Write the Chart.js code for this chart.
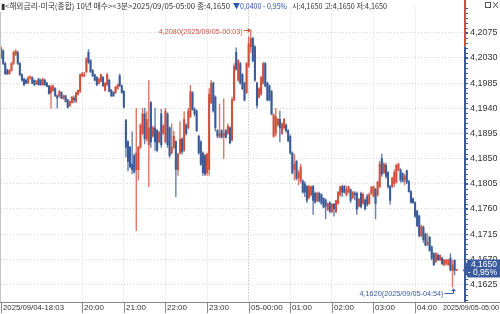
<!DOCTYPE html>
<html><head><meta charset="utf-8">
<script src="https://cdn.jsdelivr.net/npm/chart.js@4.4.1/dist/chart.umd.min.js"></script>
<style>html,body{margin:0;padding:0;background:#fff;overflow:hidden}canvas{display:block}</style>
</head><body>
<canvas id="c" width="500" height="314"></canvas>
<script>
// ---- data (3-minute bars, 2025/09/04-18:03 .. 2025/09/05-05:00) ----
const opens = [
4.2030,4.2042,4.2020,4.2008,4.2002,4.2008,4.2020,4.2036,4.2040,4.2020,
4.2000,4.1992,4.1990,4.1985,4.1994,4.1995,4.1990,4.1984,4.1992,4.1990,
4.1982,4.1990,4.1985,4.1980,4.1968,4.1972,4.1975,4.1962,4.1962,4.1968,
4.1958,4.1962,4.1955,4.1945,4.1950,4.1958,4.1952,4.1965,4.1970,4.1998,
4.1998,4.2005,4.2040,4.2025,4.2008,4.2000,4.1995,4.1985,4.1988,4.1995,
4.1972,4.1982,4.1990,4.1972,4.1968,4.1968,4.1975,4.1998,4.1980,4.1970,
4.1918,4.1880,4.1870,4.1840,4.1855,4.1830,4.1830,4.1870,4.1895,4.1930,
4.1885,4.1875,4.1950,4.1890,4.1905,4.1900,4.1880,4.1930,4.1895,4.1880,
4.1930,4.1905,4.1860,4.1870,4.1880,4.1830,4.1860,4.1885,4.1865,4.1910,
4.1905,4.1925,4.1968,4.1938,4.1935,4.1890,4.1880,4.1860,4.1855,4.1825,
4.1830,4.1950,4.1985,4.1960,4.1900,4.1890,4.1900,4.1890,4.1900,4.1895,
4.1905,4.1883,4.1955,4.2040,4.1990,4.2020,4.2000,4.1985,4.1968,4.2015,
4.2050,4.2065,4.2050,4.1985,4.1960,4.1965,4.1985,4.2020,4.1985,4.1980,
4.1970,4.1890,4.1895,4.1910,4.1920,4.1895,4.1905,4.1910,4.1900,4.1890,
4.1860,4.1830,4.1845,4.1815,4.1810,4.1810,4.1805,4.1800,4.1780,4.1785,
4.1800,4.1788,4.1775,4.1788,4.1785,4.1779,4.1776,4.1759,4.1771,4.1755,
4.1768,4.1755,4.1770,4.1785,4.1800,4.1800,4.1785,4.1790,4.1794,4.1780,
4.1788,4.1788,4.1765,4.1788,4.1770,4.1776,4.1782,4.1770,4.1788,4.1783,
4.1795,4.1785,4.1800,4.1850,4.1825,4.1838,4.1825,4.1800,4.1800,4.1805,
4.1808,4.1830,4.1830,4.1823,4.1812,4.1828,4.1809,4.1791,4.1778,4.1771,
4.1756,4.1747,4.1712,4.1727,4.1715,4.1697,4.1709,4.1692,4.1680,4.1666,
4.1677,4.1669,4.1672,4.1660,4.1663,4.1660,4.1672,4.1650,4.1668,4.1650];
const highs = [
4.2050,4.2045,4.2022,4.2010,4.2009,4.2022,4.2042,4.2045,4.2042,4.2022,
4.2002,4.1994,4.1992,4.1997,4.1998,4.1996,4.1991,4.1990,4.1994,4.1992,
4.1994,4.1992,4.1987,4.1981,4.1982,4.1982,4.1977,4.1964,4.1972,4.1970,
4.1964,4.1963,4.1956,4.1953,4.1961,4.1962,4.1969,4.1973,4.2001,4.2004,
4.2004,4.2031,4.2045,4.2027,4.2009,4.2001,4.1997,4.1994,4.2001,4.1997,
4.1986,4.2003,4.1992,4.1974,4.1970,4.1979,4.1983,4.2001,4.1982,4.1972,
4.1920,4.1882,4.1872,4.1898,4.1858,4.1940,4.1872,4.1912,4.1940,4.1940,
4.1934,4.1990,4.1952,4.1908,4.1940,4.1902,4.1899,4.1938,4.1911,4.1940,
4.1932,4.1907,4.1912,4.1899,4.1882,4.1860,4.1916,4.1887,4.1934,4.1912,
4.1940,4.1981,4.1970,4.1941,4.1937,4.1892,4.1882,4.1862,4.1858,4.1860,
4.1975,4.1990,4.1987,4.1962,4.1902,4.1948,4.1902,4.1957,4.1902,4.1912,
4.1907,4.1960,4.2020,4.2048,4.2027,4.2022,4.2002,4.1987,4.2022,4.2068,
4.2080,4.2067,4.2052,4.1987,4.1977,4.1997,4.2022,4.2022,4.1987,4.1982,
4.1972,4.1930,4.1940,4.1922,4.1935,4.1914,4.1922,4.1912,4.1902,4.1892,
4.1862,4.1858,4.1847,4.1829,4.1840,4.1812,4.1809,4.1802,4.1802,4.1801,
4.1802,4.1790,4.1790,4.1790,4.1787,4.1780,4.1778,4.1771,4.1773,4.1770,
4.1770,4.1776,4.1791,4.1801,4.1802,4.1802,4.1801,4.1801,4.1796,4.1791,
4.1791,4.1790,4.1779,4.1790,4.1789,4.1778,4.1786,4.1789,4.1801,4.1801,
4.1797,4.1810,4.1845,4.1858,4.1843,4.1842,4.1827,4.1802,4.1817,4.1830,
4.1840,4.1842,4.1832,4.1825,4.1822,4.1830,4.1811,4.1793,4.1780,4.1773,
4.1758,4.1749,4.1731,4.1730,4.1717,4.1716,4.1711,4.1694,4.1682,4.1682,
4.1680,4.1678,4.1674,4.1670,4.1670,4.1670,4.1680,4.1668,4.1669,4.1650];
const lows = [
4.2028,4.2018,4.2000,4.2000,4.2000,4.2006,4.2018,4.2034,4.2018,4.1998,
4.1988,4.1980,4.1984,4.1984,4.1992,4.1984,4.1980,4.1982,4.1981,4.1981,
4.1981,4.1981,4.1978,4.1965,4.1940,4.1970,4.1961,4.1940,4.1960,4.1957,
4.1956,4.1951,4.1940,4.1943,4.1949,4.1950,4.1950,4.1963,4.1968,4.1996,
4.1996,4.2003,4.2020,4.2004,4.1997,4.1989,4.1980,4.1983,4.1987,4.1979,
4.1971,4.1980,4.1969,4.1961,4.1961,4.1966,4.1974,4.1979,4.1967,4.1940,
4.1853,4.1828,4.1833,4.1823,4.1824,4.1721,4.1812,4.1868,4.1893,4.1876,
4.1881,4.1800,4.1870,4.1888,4.1864,4.1862,4.1878,4.1870,4.1893,4.1878,
4.1870,4.1852,4.1858,4.1868,4.1782,4.1820,4.1858,4.1858,4.1863,4.1892,
4.1903,4.1923,4.1936,4.1926,4.1898,4.1858,4.1838,4.1820,4.1820,4.1820,
4.1820,4.1948,4.1933,4.1899,4.1887,4.1887,4.1887,4.1850,4.1887,4.1893,
4.1876,4.1881,4.1953,4.2008,4.1988,4.1983,4.1973,4.1953,4.1966,4.2013,
4.2040,4.2023,4.1988,4.1940,4.1958,4.1963,4.1983,4.1978,4.1953,4.1953,
4.1928,4.1888,4.1890,4.1908,4.1880,4.1893,4.1903,4.1897,4.1880,4.1858,
4.1822,4.1812,4.1812,4.1803,4.1806,4.1788,4.1782,4.1771,4.1778,4.1783,
4.1750,4.1770,4.1773,4.1772,4.1768,4.1762,4.1742,4.1757,4.1753,4.1753,
4.1747,4.1753,4.1768,4.1783,4.1782,4.1788,4.1783,4.1788,4.1771,4.1778,
4.1776,4.1750,4.1763,4.1762,4.1768,4.1758,4.1765,4.1768,4.1786,4.1781,
4.1742,4.1783,4.1798,4.1818,4.1823,4.1815,4.1797,4.1768,4.1798,4.1800,
4.1806,4.1828,4.1808,4.1808,4.1803,4.1805,4.1790,4.1770,4.1770,4.1745,
4.1728,4.1710,4.1710,4.1700,4.1694,4.1694,4.1684,4.1669,4.1659,4.1664,
4.1668,4.1667,4.1660,4.1658,4.1660,4.1659,4.1649,4.1620,4.1642,4.1650];
const closes = [
4.2048,4.2020,4.2002,4.2002,4.2008,4.2020,4.2040,4.2042,4.2020,4.2000,
4.1990,4.1982,4.1985,4.1994,4.1996,4.1985,4.1982,4.1988,4.1982,4.1982,
4.1992,4.1982,4.1979,4.1966,4.1978,4.1980,4.1962,4.1958,4.1970,4.1958,
4.1962,4.1952,4.1942,4.1952,4.1960,4.1955,4.1968,4.1972,4.2000,4.2002,
4.2000,4.2028,4.2022,4.2005,4.1998,4.1990,4.1982,4.1992,4.2000,4.1980,
4.1985,4.2000,4.1970,4.1962,4.1962,4.1978,4.1982,4.1980,4.1968,4.1942,
4.1870,4.1845,4.1835,4.1830,4.1826,4.1860,4.1870,4.1910,4.1930,4.1885,
4.1920,4.1905,4.1880,4.1905,4.1880,4.1865,4.1897,4.1875,4.1908,4.1935,
4.1875,4.1855,4.1870,4.1890,4.1830,4.1858,4.1885,4.1862,4.1920,4.1895,
4.1935,4.1970,4.1938,4.1930,4.1900,4.1860,4.1840,4.1825,4.1822,4.1858,
4.1965,4.1985,4.1935,4.1905,4.1890,4.1895,4.1888,4.1895,4.1888,4.1908,
4.1878,4.1955,4.2015,4.2010,4.2025,4.1985,4.1975,4.1955,4.2020,4.2055,
4.2065,4.2025,4.1990,4.1945,4.1975,4.1995,4.2020,4.1980,4.1955,4.1955,
4.1930,4.1928,4.1925,4.1920,4.1905,4.1912,4.1920,4.1900,4.1882,4.1860,
4.1825,4.1840,4.1815,4.1825,4.1835,4.1790,4.1790,4.1775,4.1800,4.1800,
4.1775,4.1772,4.1788,4.1774,4.1770,4.1763,4.1765,4.1769,4.1756,4.1768,
4.1760,4.1775,4.1790,4.1800,4.1790,4.1790,4.1795,4.1800,4.1775,4.1790,
4.1785,4.1759,4.1777,4.1764,4.1786,4.1760,4.1768,4.1786,4.1798,4.1800,
4.1770,4.1808,4.1840,4.1822,4.1840,4.1818,4.1800,4.1775,4.1815,4.1825,
4.1838,4.1840,4.1812,4.1809,4.1818,4.1808,4.1791,4.1772,4.1771,4.1747,
4.1730,4.1712,4.1729,4.1705,4.1695,4.1700,4.1686,4.1672,4.1660,4.1680,
4.1669,4.1677,4.1662,4.1669,4.1668,4.1669,4.1651,4.1660,4.1650,4.1650];

const yTicks = [4.1625,4.1670,4.1715,4.1760,4.1805,4.1850,4.1895,4.1940,4.1985,4.2030,4.2075];
const xTickIdx = [0,39,59,79,99,119,139,159,179,199,219];
const xTickText = ['2025/09/04-18:03','20:00','21:00','22:00','23:00','05-00:00','01:00','02:00','03:00','04:00','2025/09/05-05:00'];
const gridIdx = [39,59,79,99,119,139,159,179,199];
const prevClose = 4.2050;
const lastPrice = 4.1650;
const changeText = '- 0,95%';
const highMark = {idx:120, value:4.2080, label:'4,2080(2025/09/05-00:03)'};
const lowMark = {idx:217, value:4.1620, label:'4,1620(2025/09/05-04:54)'};
const headerMain = '▮<해외금리-미국(종합) 10년 매수><3분>2025/09/05-05:00 종:4,1650';
const headerChange = '▼0,0400 - 0,95%';
const headerOHL = '시:4,1650 고:4,1650 저:4,1650';

// ---- rendering ----
const UP = '#d0503b', DN = '#3a5a98', TXT = '#333333', GRID = '#d6d6d6';
const UPW = 'rgba(208,80,59,0.75)', DNW = 'rgba(58,90,152,0.75)';
const fmt = v => v.toFixed(4).replace('.', ',');
const idx = opens.map((_, i) => i);
const isUp = i => closes[i] >= opens[i];

const overlay = {
  id: 'overlay',
  beforeDraw(chart) {
    const c = chart.ctx; c.save(); c.fillStyle = '#fff'; c.fillRect(0, 0, chart.width, chart.height); c.restore();
  },
  afterDraw(chart) {
    const c = chart.ctx, a = chart.chartArea, xs = chart.scales.x, ys = chart.scales.y;
    c.save();
    // left border & bottom axis line
    c.fillStyle = '#c4c4c4'; c.fillRect(0, 12, 1, a.bottom - 12);
    c.fillStyle = '#8a8a8a'; c.fillRect(0, Math.round(a.bottom), chart.width, 1);
    // x labels
    c.font = "8px 'Liberation Sans', Arial, sans-serif"; c.textBaseline = 'middle';
    xTickIdx.forEach((v, k) => {
      const px = Math.round(xs.getPixelForValue(v));
      c.fillStyle = TXT;
      if (k === xTickIdx.length - 1) { c.textAlign = 'right'; c.fillText(xTickText[k], chart.width - 1, 308, 56); }
      else {
        c.fillStyle = '#8a8a8a'; c.fillRect(Math.max(px, 0), Math.round(a.bottom), 1, 11);
        c.fillStyle = TXT; c.textAlign = 'left'; c.fillText(xTickText[k], px + 2, 308, k === 0 ? 61 : 40);
      }
    });
    // right axis line coloured around previous close
    const yPrev = ys.getPixelForValue(prevClose);
    const ax = Math.round(a.right) - 1;
    c.fillStyle = UP; c.fillRect(ax, 0, 2, yPrev);
    c.fillStyle = DN; c.fillRect(ax, yPrev, 2, a.bottom - yPrev);
    // minor ticks
    c.fillStyle = DN;
    for (let v = yTicks[0] - 0.0009 * 3; v < ys.max; v += 0.0009) {
      const y = Math.round(ys.getPixelForValue(v));
      if (y > 0 && y < a.bottom) c.fillRect(ax + 2, y, 2, 1);
    }
    // current price box
    const py = ys.getPixelForValue(lastPrice) - 2;
    c.fillStyle = '#3a5c9c';
    c.beginPath(); c.moveTo(a.right - 2, py + 2); c.lineTo(a.right + 3, py - 9); c.lineTo(chart.width, py - 9);
    c.lineTo(chart.width, py + 9); c.lineTo(a.right + 3, py + 9); c.closePath(); c.fill();
    c.fillStyle = '#fff'; c.font = "8.5px 'Liberation Sans', Arial, sans-serif"; c.textAlign = 'right';
    c.fillText(fmt(lastPrice), chart.width - 3, py - 4);
    c.fillText(changeText, chart.width - 3, py + 4.5);
    // high annotation
    c.font = "8px 'Liberation Sans', Arial, sans-serif";
    let bx = xs.getPixelForValue(highMark.idx), by = Math.round(ys.getPixelForValue(highMark.value)) + 0.5;
    c.fillStyle = '#c9573f'; c.strokeStyle = '#c9573f'; c.lineWidth = 1; c.textAlign = 'right';
    c.fillText(highMark.label, bx - 8, by + 1, 84);
    c.beginPath(); c.moveTo(bx - 7, by); c.lineTo(bx - 1, by); c.stroke();
    c.beginPath(); c.moveTo(bx, by); c.lineTo(bx - 3, by - 2.5); c.lineTo(bx - 3, by + 2.5); c.closePath(); c.fill();
    // low annotation
    bx = Math.round(xs.getPixelForValue(lowMark.idx)) + 0.5;
    const ly = 293.5, lowY = ys.getPixelForValue(lowMark.value);
    c.fillStyle = '#3a5c9c'; c.strokeStyle = '#3a5c9c';
    c.fillText(lowMark.label, bx - 10, ly, 84);
    c.beginPath(); c.moveTo(bx - 9, ly); c.lineTo(bx, ly); c.lineTo(bx, lowY + 2); c.stroke();
    c.beginPath(); c.moveTo(bx, lowY + 1); c.lineTo(bx - 2.5, lowY + 4); c.lineTo(bx + 2.5, lowY + 4); c.closePath(); c.fill();
    // header
    c.textAlign = 'left'; c.textBaseline = 'middle';
    c.font = "8px 'Noto Sans CJK KR', sans-serif";
    c.fillStyle = TXT; c.fillText(headerMain, 1, 6, 229);
    c.fillStyle = '#2f57a8'; c.fillText(headerChange, 233, 6, 54);
    c.fillStyle = TXT; c.fillText(headerOHL, 292, 6, 95);
    // window buttons
    c.strokeStyle = '#555'; c.lineWidth = 1;
    c.strokeRect(485.5, 2.5, 5, 5);
    c.beginPath(); c.moveTo(493, 2); c.lineTo(498, 8); c.moveTo(498, 2); c.lineTo(493, 8); c.stroke();
    c.restore();
  }
};

new Chart(document.getElementById('c').getContext('2d'), {
  type: 'bar',
  data: {
    datasets: [
      { label: 'wick', data: idx.map(i => ({x: i, y: [lows[i], highs[i]]})), backgroundColor: idx.map(i => isUp(i) ? UPW : DNW),
        barThickness: 0.8, grouped: false, order: 2 },
      { label: 'body', data: idx.map(i => ({x: i, y: [opens[i], closes[i]]})), backgroundColor: idx.map(i => isUp(i) ? UP : DN),
        barThickness: 1.4, minBarLength: 1, grouped: false, order: 1 }
    ]
  },
  options: {
    responsive: false, animation: false, devicePixelRatio: 1,
    layout: { padding: { left: 1, top: 0, right: 0, bottom: 0 } },
    plugins: { legend: { display: false }, tooltip: { enabled: false } },
    scales: {
      x: {
        type: 'linear', min: -0.05, max: 223, offset: false,
        afterBuildTicks: s => { s.ticks = gridIdx.map(v => ({ value: v })); },
        afterFit: s => { s.height = 12; },
        ticks: { display: false },
        grid: { offset: false, drawTicks: false, color: ctx => (ctx.tick && ctx.tick.value === 119) ? '#a8a8a8' : GRID },
        border: { display: false, dash: [1, 2] }
      },
      y: {
        position: 'right', min: 4.15936, max: 4.21203,
        afterBuildTicks: s => { s.ticks = yTicks.map(v => ({ value: v })); },
        afterFit: s => { s.width = 35; },
        ticks: { autoSkip: false, callback: v => fmt(v), font: { family: "'Liberation Sans', Arial, sans-serif", size: 9 }, color: TXT, padding: 2 },
        grid: { color: GRID, tickColor: DN, tickLength: 3, drawTicks: true },
        border: { display: false, dash: [1, 2] }
      }
    }
  },
  plugins: [overlay]
});
</script>
</body></html>
